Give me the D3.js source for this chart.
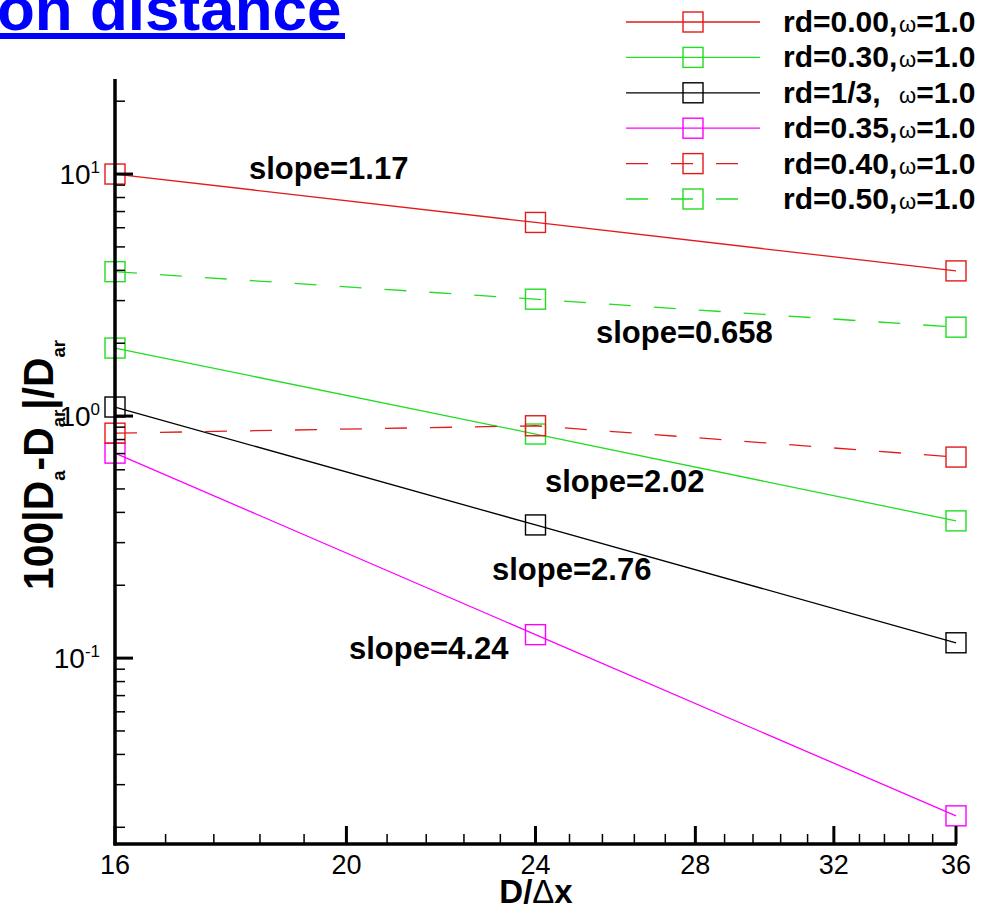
<!DOCTYPE html>
<html>
<head>
<meta charset="utf-8">
<script src="https://cdn.jsdelivr.net/npm/d3@7"></script>
<style>
  body { margin: 0; background: #fff; }
  svg { display: block; font-family: "Liberation Sans", Arial, sans-serif; }
</style>
</head>
<body>
<svg id="chart" width="990" height="911"></svg>
<script>
// grid resolution D/dx on the x axis
const xValues = [16, 24, 36];

// error 100|Da-Dar|/Dar for each reaction distance
const rd000 = [10.0, 6.31, 3.98];
const rd030 = [1.91, 0.843, 0.369];
const rd033 = [1.09, 0.355, 0.1157];
const rd035 = [0.703, 0.125, 0.0223];
const rd040 = [0.85, 0.912, 0.677];
const rd050 = [3.95, 3.04, 2.33];

const seriesLabels = ["rd=0.00,", "rd=0.30,", "rd=1/3,", "rd=0.35,", "rd=0.40,", "rd=0.50,"];
const seriesValues = [rd000, rd030, rd033, rd035, rd040, rd050];
const seriesColors = ["#e41a1a", "#22dd22", "#000000", "#ff00ff", "#e41a1a", "#22dd22"];
const seriesDashed = [false, false, false, false, true, true];

const xTicks = [16, 20, 24, 28, 32, 36];
const yTicks = [0.1, 1, 10];
const yTickExp = ["-1", "0", "1"];

const slopeLabels = ["slope=1.17", "slope=0.658", "slope=2.02", "slope=2.76", "slope=4.24"];

const svg = d3.select("#chart");

// scales (both log, like the original tecplot plot)
const pLeft = 115, pRight = 956, pTop = 79, pBottom = 844;
const x = d3.scaleLog().domain([16, 36]).range([pLeft, pRight]);
const y = d3.scaleLog().domain([0.01706, 24.7]).range([pBottom, pTop]);

// title fragment
svg.append("text")
  .attr("x", -3).attr("y", 30)
  .attr("font-size", 62).attr("font-weight", "bold")
  .attr("fill", "#0000ff")
  .text("on distance");
svg.append("rect")
  .attr("x", 0).attr("y", 33).attr("width", 345).attr("height", 6)
  .attr("fill", "#0000ff");

// data lines and markers
const line = d3.line().x((d, i) => x(xValues[i])).y(d => y(d));

seriesValues.forEach((vals, k) => {
  svg.append("path")
    .attr("d", line(vals))
    .attr("fill", "none")
    .attr("stroke", seriesColors[k])
    .attr("stroke-width", 1.3)
    .attr("stroke-dasharray", seriesDashed[k] ? "22,23" : null);

  svg.selectAll(null)
    .data(vals)
    .enter().append("rect")
    .attr("x", (d, i) => x(xValues[i]) - 10)
    .attr("y", d => y(d) - 10)
    .attr("width", 20).attr("height", 20)
    .attr("fill", "none")
    .attr("stroke", seriesColors[k])
    .attr("stroke-width", 1.4);
});

// axes
const xMinor = d3.range(16, 36.01, 0.8).filter(v => !xTicks.some(t => Math.abs(t - v) < 1e-6));
const yMinor = [];
[0.01, 0.1, 1, 10].forEach(p => {
  for (let m = 2; m <= 9; m++) {
    const v = m * p;
    if (v >= 0.01706 && v <= 24.7) yMinor.push(v);
  }
});

const xAxis = svg.append("g");
xAxis.selectAll(".minor").data(xMinor).enter().append("line")
  .attr("x1", d => x(d)).attr("x2", d => x(d))
  .attr("y1", pBottom).attr("y2", pBottom - 10)
  .attr("stroke", "#000").attr("stroke-width", 1.5);
xAxis.selectAll(".major").data(xTicks).enter().append("line")
  .attr("x1", d => x(d)).attr("x2", d => x(d))
  .attr("y1", pBottom).attr("y2", pBottom - 18)
  .attr("stroke", "#000").attr("stroke-width", 3);
xAxis.selectAll("text").data(xTicks).enter().append("text")
  .attr("x", d => x(d)).attr("y", 874)
  .attr("text-anchor", "middle")
  .attr("font-size", 27)
  .text(d => d);

const yAxis = svg.append("g");
yAxis.selectAll(".minor").data(yMinor).enter().append("line")
  .attr("x1", pLeft).attr("x2", pLeft + 10)
  .attr("y1", d => y(d)).attr("y2", d => y(d))
  .attr("stroke", "#000").attr("stroke-width", 1.5);
yAxis.selectAll(".major").data(yTicks).enter().append("line")
  .attr("x1", pLeft).attr("x2", pLeft + 18)
  .attr("y1", d => y(d)).attr("y2", d => y(d))
  .attr("stroke", "#000").attr("stroke-width", 3);
const yLab = yAxis.selectAll("text").data(yTicks).enter().append("text")
  .attr("x", 100).attr("y", d => y(d) + 10)
  .attr("text-anchor", "end")
  .attr("font-size", 28);
yLab.append("tspan").text("10");
yLab.append("tspan").attr("dy", -11).attr("font-size", 17).text((d, i) => yTickExp[i]);

svg.append("line")
  .attr("x1", pLeft).attr("x2", pLeft).attr("y1", pTop).attr("y2", pBottom + 1.5)
  .attr("stroke", "#000").attr("stroke-width", 3.5);
svg.append("line")
  .attr("x1", pLeft - 1.5).attr("x2", pRight + 1).attr("y1", pBottom).attr("y2", pBottom)
  .attr("stroke", "#000").attr("stroke-width", 3.5);

// axis titles
const xt = svg.append("text")
  .attr("x", 536).attr("y", 903)
  .attr("text-anchor", "middle")
  .attr("font-size", 33).attr("font-weight", "bold");
xt.append("tspan").text("D/");
xt.append("tspan").attr("font-weight", "normal").text("\u0394");
xt.append("tspan").text("x");

const yt = svg.append("text")
  .attr("font-size", 42).attr("font-weight", "bold")
  .attr("text-anchor", "middle");
yt.append("tspan").text("100|D");
yt.append("tspan").attr("font-size", 19).attr("dy", 12).text("a");
yt.append("tspan").attr("dy", -12).text("-D");
yt.append("tspan").attr("font-size", 19).attr("dy", 12).text("ar");
yt.append("tspan").attr("dy", -12).text("|/D");
yt.append("tspan").attr("font-size", 19).attr("dy", 12).text("ar");
const ytLen = yt.node().getComputedTextLength();
yt.attr("transform", "translate(53,465) rotate(-90) scale(" + (250 / ytLen) + ",1)");

// slope annotations
const slopePos = [[249, 179], [596, 343], [545, 492], [492, 580], [349, 659]];
svg.selectAll(".slope").data(slopeLabels).enter().append("text")
  .attr("x", (d, i) => slopePos[i][0]).attr("y", (d, i) => slopePos[i][1])
  .attr("font-size", 31).attr("font-weight", "bold")
  .text(d => d);

// legend
const legend = svg.append("g");
seriesLabels.forEach((lab, k) => {
  const ly = 22 + k * 35.4;
  legend.append("line")
    .attr("x1", 626).attr("x2", seriesDashed[k] ? 738 : 760)
    .attr("y1", ly).attr("y2", ly)
    .attr("stroke", seriesColors[k]).attr("stroke-width", 1.3)
    .attr("stroke-dasharray", seriesDashed[k] ? "22,23" : null);
  legend.append("rect")
    .attr("x", 683).attr("y", ly - 10).attr("width", 20).attr("height", 20)
    .attr("fill", "none")
    .attr("stroke", seriesColors[k]).attr("stroke-width", 1.4);
  const t = legend.append("text")
    .attr("x", 783).attr("y", ly + 10)
    .attr("font-size", 30).attr("font-weight", "bold");
  t.append("tspan").text(lab);
  t.append("tspan").attr("x", 899).attr("font-size", 22).attr("font-weight", "normal").text("\u03c9");
  t.append("tspan").text("=1.0");
});
</script>
</body>
</html>
